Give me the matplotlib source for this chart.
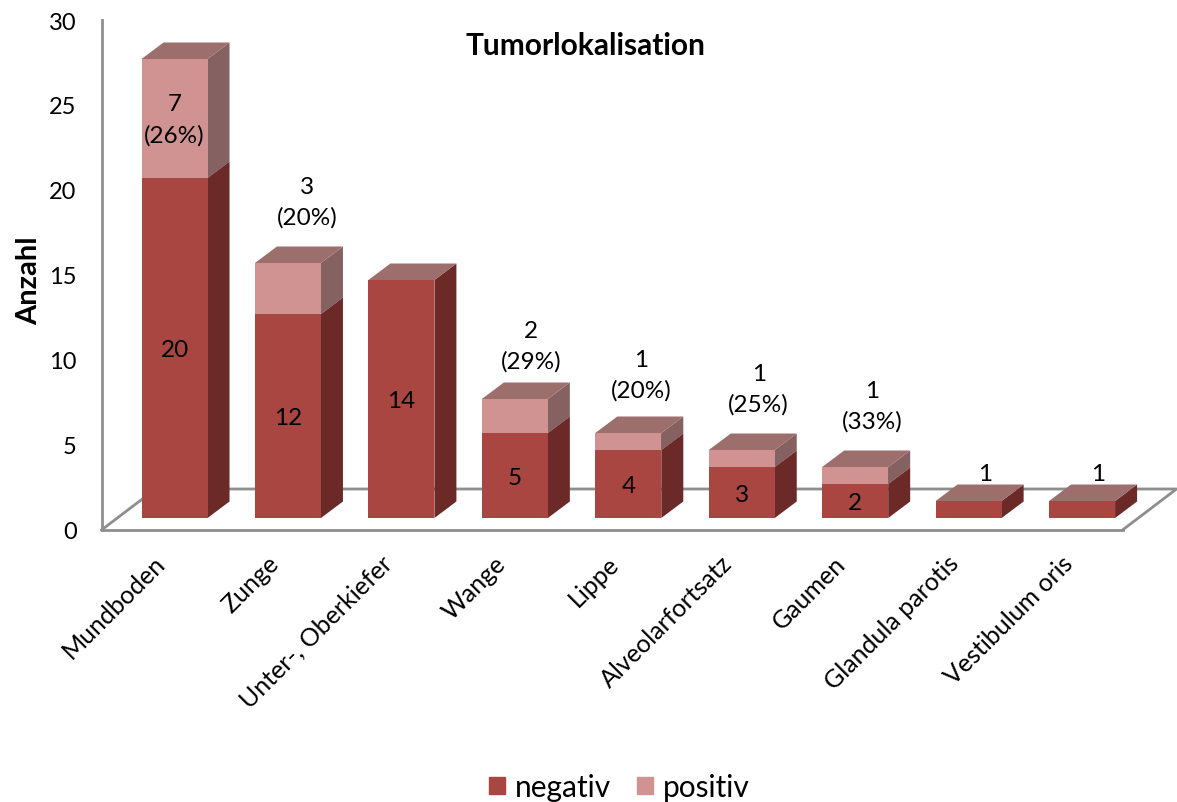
import matplotlib
matplotlib.use('Agg')
import matplotlib.pyplot as plt
from matplotlib.patches import Polygon, Patch
from matplotlib.transforms import ScaledTranslation

kategorien = ['Mundboden', 'Zunge', 'Unter-, Oberkiefer', 'Wange', 'Lippe',
              'Alveolarfortsatz', 'Gaumen', 'Glandula parotis', 'Vestibulum oris']
negativ = [20, 12, 14, 5, 4, 3, 2, 1, 1]
positiv = [7, 3, 0, 2, 1, 1, 1, 0, 0]
# label texts for the positive part, shown inside or above the bar
pos_labels = ['7\n(26%)', '3\n(20%)', '', '2\n(29%)', '1\n(20%)', '1\n(25%)', '1\n(33%)', '1', '1']
# label shift from bar top (px right, px up)
label_dx = [0, 19, 0, 16, 13, 17, 17, 16, 16]
label_dy = [0, 61, 0, 53, 58, 61, 61, 27, 27]
yticks = [0, 5, 10, 15, 20, 25, 30]

W, H = 1177, 803
plt.rcParams['font.family'] = ['Lato', 'DejaVu Sans']

# colours: front, side, top
farbe_neg = ('#A94642', '#6B2A28', '#9C6E6C')
farbe_pos = ('#D09392', '#866161', '#9C6E6C')
grau = '#8E8E8E'

fig = plt.figure(figsize=(W / 100, H / 100), dpi=100)
# axes frame = front edge of the floor and the y axis
ax = fig.add_axes([101.5 / W, 1 - 531 / H, 1021 / W, 510 / H])
ax.set_xlim(-0.5, 8.5)
ax.set_ylim(0, 30)

px = 9 / 1021        # data units for one pixel in x
py = 30 / 510        # same in y
boden_dx, boden_dy = 54 * px, 41 * py
tiefe_dx, tiefe_dy = 22 * px, 16.5 * py
off_x, off_y = 16.3 * px, 12 * py
breite = 66 * px

# floor
ax.plot([-0.5, -0.5 + boden_dx, 8.5 + boden_dx, 8.5],
        [0, boden_dy, boden_dy, 0], color=grau, lw=2, clip_on=False, zorder=1)


def saeule(x, unten, hoehe, farben):
    if hoehe == 0:
        return
    links = x + off_x - breite / 2
    rechts = links + breite
    y0 = off_y + unten
    y1 = y0 + hoehe
    ax.bar(links, hoehe, breite, bottom=y0, align='edge', color=farben[0],
           lw=0, zorder=3)
    ax.add_patch(Polygon([(rechts, y0), (rechts + tiefe_dx, y0 + tiefe_dy),
                          (rechts + tiefe_dx, y1 + tiefe_dy), (rechts, y1)],
                         color=farben[1], lw=0, zorder=2, clip_on=False))
    ax.add_patch(Polygon([(links, y1), (links + tiefe_dx, y1 + tiefe_dy),
                          (rechts + tiefe_dx, y1 + tiefe_dy), (rechts, y1)],
                         color=farben[2], lw=0, zorder=2, clip_on=False))


for i in range(len(kategorien)):
    saeule(i, 0, negativ[i], farbe_neg)
    saeule(i, negativ[i], positiv[i], farbe_pos)
    ax.text(i + off_x, off_y + negativ[i] / 2 - 2 * py, str(negativ[i]) if i < 7 else '',
            ha='center', va='center', fontsize=17.5, zorder=5, color='black')
    if pos_labels[i]:
        ges = negativ[i] + positiv[i]
        if label_dy[i] == 0:
            ax.text(i + off_x, off_y + negativ[i] + positiv[i] / 2 - 1 * py, pos_labels[i],
                    ha='center', va='center', fontsize=17.5, zorder=5, linespacing=1.55)
        else:
            ax.text(i + off_x + label_dx[i] * px, off_y + ges + label_dy[i] * py,
                    pos_labels[i], ha='center', va='center', fontsize=17.5,
                    zorder=5, linespacing=1.55)

for s in ['top', 'right']:
    ax.spines[s].set_visible(False)
for s in ['left', 'bottom']:
    ax.spines[s].set_color(grau)
    ax.spines[s].set_linewidth(2)

ax.set_yticks(yticks)
ax.tick_params(axis='y', length=0, pad=18, labelsize=17)
ax.set_xticks(range(len(kategorien)))
ax.set_xticklabels(kategorien, rotation=45, ha='right', rotation_mode='anchor', fontsize=18)
ax.tick_params(axis='x', length=0, pad=13)
verschub = ScaledTranslation(-5 / 100, -3 / 100, fig.dpi_scale_trans)
for t in ax.get_xticklabels():
    t.set_transform(t.get_transform() + verschub)

fig.text(585.5 / W, 1 - 46 / H, 'Tumorlokalisation', ha='center', va='center',
         fontsize=21.5, fontweight='bold')
fig.text(29 / W, 1 - 281 / H, 'Anzahl', rotation=90, ha='center', va='center',
         fontsize=21, fontweight='bold')

griffe = [Patch(color=farbe_neg[0], label='negativ'), Patch(color=farbe_pos[0], label='positiv')]
fig.legend(handles=griffe, loc='center', bbox_to_anchor=(619.5 / W, 1 - 788 / H), ncol=2,
           frameon=False, fontsize=21.5, handlelength=0.54, handleheight=0.54,
           handletextpad=0.33, columnspacing=0.87, borderpad=0)

fig.savefig('out.png', dpi=100)
